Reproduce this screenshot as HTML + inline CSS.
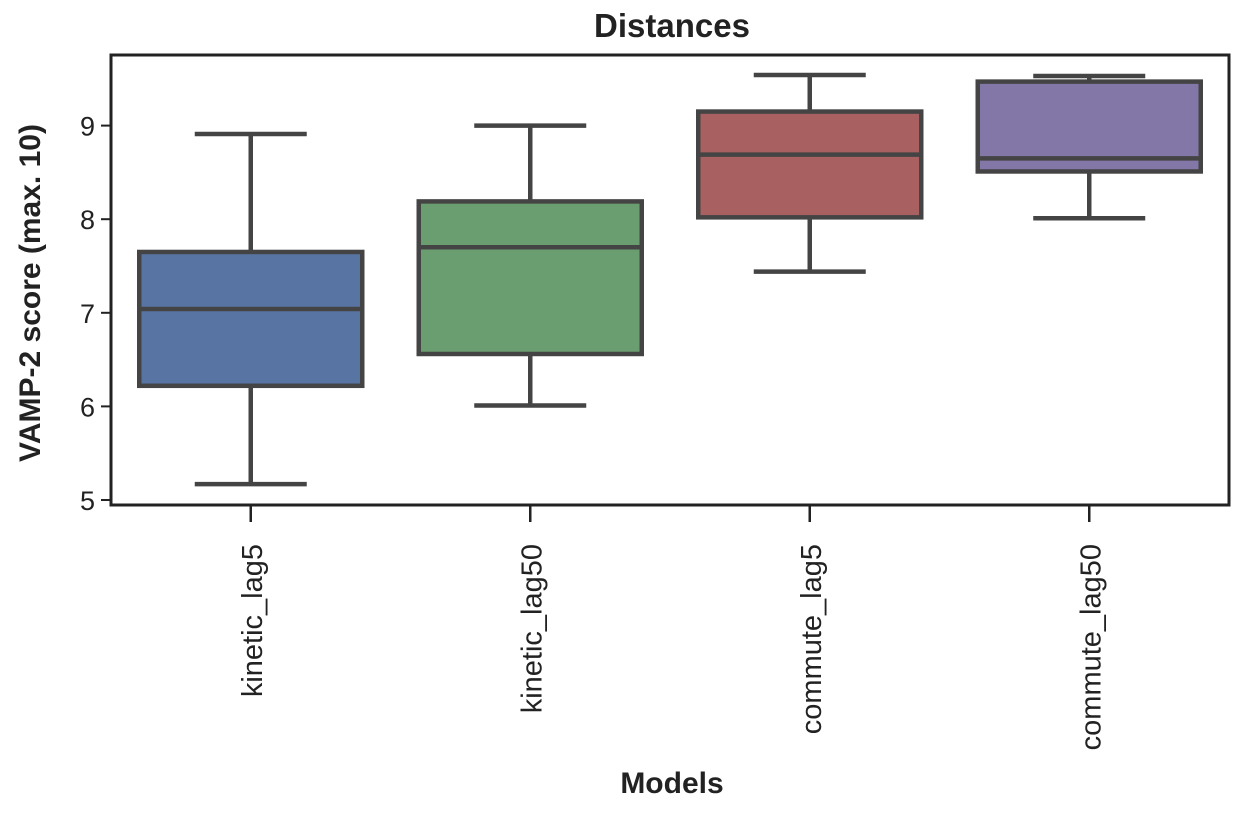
<!DOCTYPE html>
<html><head><meta charset="utf-8"><style>
body{margin:0;background:#fff;}
svg text{font-family:"Liberation Sans",Arial,sans-serif;fill:#222;}
</style></head><body>
<svg id="chart" width="1250" height="818" viewBox="0 0 1250 818">
<text x="672" y="37" font-size="33" font-weight="bold" text-anchor="middle">Distances</text>
<text transform="translate(40,293) rotate(-90)" font-size="30" font-weight="bold" text-anchor="middle">VAMP-2 score (max. 10)</text>
<text x="672" y="793" font-size="30" font-weight="bold" text-anchor="middle">Models</text>
<g id="plot"></g>
<rect x="111" y="55" width="1118" height="450" fill="none" stroke="#222" stroke-width="3"/>
</svg>
<script>
const categories=["kinetic_lag5","kinetic_lag50","commute_lag5","commute_lag50"];
const whiskerLow=[5.17,6.01,7.44,8.01];
const q1=[6.22,6.56,8.02,8.51];
const medians=[7.04,7.70,8.69,8.65];
const q3=[7.65,8.19,9.15,9.47];
const whiskerHigh=[8.91,9.0,9.54,9.53];
const yTicks=[5,6,7,8,9];
const colors=["#5874a2","#6a9e70","#a86060","#8277a6"];
const X0=111,X1=1229;
function y(v){return 500-(v-5)*93.6;}
function xc(i){return X0+(X1-X0)*(i+0.5)/categories.length;}
const NS="http://www.w3.org/2000/svg";
const g=document.getElementById('plot');
function mk(t,a,p){const e=document.createElementNS(NS,t);for(const k in a)e.setAttribute(k,a[k]);(p||g).appendChild(e);return e;}
yTicks.forEach(v=>{
 const l=mk('line',{x1:X0-10,x2:X0,y1:y(v),y2:y(v),stroke:'#222','stroke-width':2});
 
 
 const t=mk('text',{x:X0-16,y:y(v)+10,'font-size':27,'text-anchor':'end'});t.textContent=v;
 
 
});
const bw=223,st='#444',sw=4.5;
categories.forEach((c,i)=>{
 const cx=xc(i);
 const grp=mk('g',{});
 
 
 mk('line',{x1:cx,x2:cx,y1:y(whiskerLow[i]),y2:y(q1[i]),stroke:st,'stroke-width':sw},grp);
 mk('line',{x1:cx,x2:cx,y1:y(q3[i]),y2:y(whiskerHigh[i]),stroke:st,'stroke-width':sw},grp);
 mk('line',{x1:cx-56,x2:cx+56,y1:y(whiskerLow[i]),y2:y(whiskerLow[i]),stroke:st,'stroke-width':sw},grp);
 mk('line',{x1:cx-56,x2:cx+56,y1:y(whiskerHigh[i]),y2:y(whiskerHigh[i]),stroke:st,'stroke-width':sw},grp);
 mk('rect',{x:cx-bw/2,y:y(q3[i]),width:bw,height:y(q1[i])-y(q3[i]),fill:colors[i],stroke:st,'stroke-width':sw},grp);
 mk('line',{x1:cx-bw/2,x2:cx+bw/2,y1:y(medians[i]),y2:y(medians[i]),stroke:st,'stroke-width':sw},grp);
 const tk=mk('line',{x1:cx,x2:cx,y1:505,y2:522,stroke:'#222','stroke-width':2.5});
 
 
 const t=mk('text',{transform:`translate(${cx+11},544) rotate(-90)`,'font-size':29,'text-anchor':'end'});t.textContent=c;
 
 
});
</script>
</body></html>
